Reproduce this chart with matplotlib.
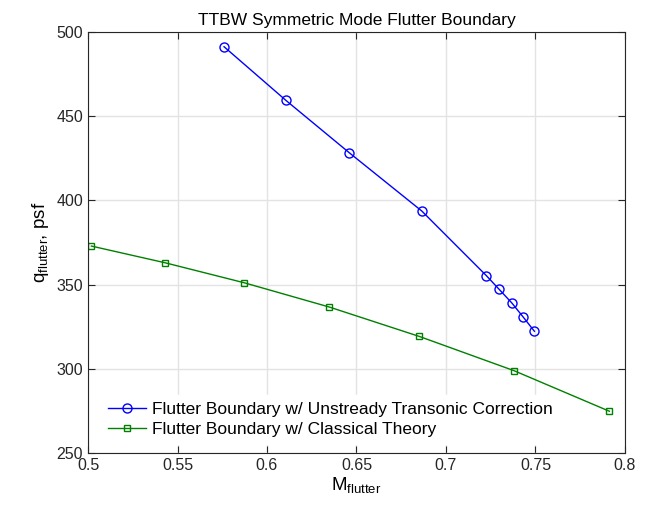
import matplotlib
matplotlib.use("Agg")
import matplotlib.pyplot as plt

plt.rcParams['font.family'] = ['Liberation Sans', 'DejaVu Sans']

# unsteady transonic correction
m_trans = [0.576, 0.6106, 0.646, 0.6865, 0.7226, 0.7297, 0.7368, 0.7431, 0.7494]
q_trans = [491.3, 459.4, 428.3, 393.7, 355.3, 347.2, 339.1, 330.8, 322.3]

# classical theory
m_class = [0.5019, 0.543, 0.5873, 0.6348, 0.6852, 0.738, 0.7913]
q_class = [372.9, 363.0, 351.1, 336.7, 319.2, 298.9, 274.8]

xticks = [0.5, 0.55, 0.6, 0.65, 0.7, 0.75, 0.8]
yticks = [250, 300, 350, 400, 450, 500]

fig = plt.figure(figsize=(6.5, 5.09), dpi=100)
ax = fig.add_axes([0.1354, 0.11, 0.8261, 0.827])

ax.plot(m_trans, q_trans, '-o', color='blue', lw=1.0, ms=6.5, mfc='none', mew=1.0,
        label='Flutter Boundary w/ Unstready Transonic Correction')
ax.plot(m_class, q_class, '-s', color='#008000', lw=1.0, ms=4, mfc='none', mew=1.0,
        label='Flutter Boundary w/ Classical Theory')

ax.set_xlim(0.5, 0.8)
ax.set_ylim(250, 500)
ax.set_xticks(xticks)
ax.set_xticklabels(['0.5', '0.55', '0.6', '0.65', '0.7', '0.75', '0.8'])
ax.set_yticks(yticks)
ax.grid(True, color='#e3e3e3', lw=1.0)
ax.set_axisbelow(True)
ax.tick_params(direction='in', length=5, labelsize=11.5, top=True, right=True, colors='#262626')
for s in ax.spines.values():
    s.set_color('#262626')

ax.set_title('TTBW Symmetric Mode Flutter Boundary', fontsize=12.5, pad=5)
ax.set_xlabel('M$_{\\mathregular{flutter}}$', fontsize=13.5, labelpad=2)
ax.set_ylabel('q$_{\\mathregular{flutter}}$, psf', fontsize=13.5)

leg = ax.legend(loc='lower left', bbox_to_anchor=(0.008, 0.0), fontsize=12.5,
                facecolor='white', edgecolor='white', framealpha=1, fancybox=False,
                handlelength=2.2, handletextpad=0.35, labelspacing=0.3, borderpad=0.4)

fig.savefig('out.png', dpi=100)
